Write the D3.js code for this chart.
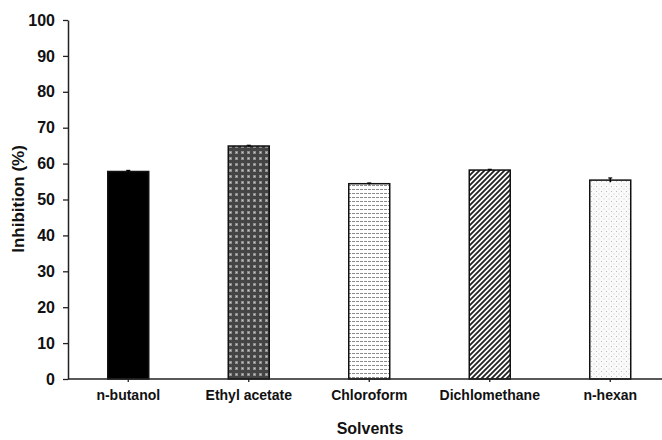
<!DOCTYPE html>
<html><head><meta charset="utf-8">
<script src="https://cdn.jsdelivr.net/npm/d3@7"></script>
<style>body{margin:0;background:#fff}svg{display:block}text{font-family:"Liberation Sans",Arial,sans-serif;font-weight:bold}</style>
</head><body>
<script>
const categories = ["n-butanol","Ethyl acetate","Chloroform","Dichlomethane","n-hexan"];
const values = [57.8, 64.9, 54.4, 58.2, 55.4];
const errors = [0.3, 0.2, 0.2, 0.2, 0.6];
const yTicks = [0,10,20,30,40,50,60,70,80,90,100];
const patterns = ["solid","check","wave","diag","dots"];

const W=662,H=440;
const svg=d3.select("body").append("svg").attr("width",W).attr("height",H);
const defs=svg.append("defs");
let p=defs.append("pattern").attr("id","check").attr("patternUnits","userSpaceOnUse").attr("width",6).attr("height",6);
p.append("rect").attr("width",6).attr("height",6).attr("fill","#444");
p.append("rect").attr("x",1).attr("y",1).attr("width",3).attr("height",3).attr("fill","#8f8f8f");
p.append("rect").attr("x",2).attr("y",2).attr("width",1).attr("height",1).attr("fill","#c8c8c8");
p=defs.append("pattern").attr("id","wave").attr("patternUnits","userSpaceOnUse").attr("width",4).attr("height",4);
p.append("rect").attr("width",4).attr("height",4).attr("fill","#fff");
p.append("rect").attr("x",0).attr("y",1).attr("width",3).attr("height",1).attr("fill","#8a8a8a");
p=defs.append("pattern").attr("id","diag").attr("patternUnits","userSpaceOnUse").attr("width",5).attr("height",5);
p.append("rect").attr("width",5).attr("height",5).attr("fill","#fff");
p.append("path").attr("d","M-1,6 L6,-1 M-1,1 L1,-1 M4,6 L6,4").attr("stroke","#222").attr("stroke-width",1.8);
p=defs.append("pattern").attr("id","dots").attr("patternUnits","userSpaceOnUse").attr("width",5).attr("height",5);
p.append("rect").attr("width",5).attr("height",5).attr("fill","#fafafa");
p.append("rect").attr("x",1).attr("y",1).attr("width",1).attr("height",1).attr("fill","#bbb");
p.append("rect").attr("x",3.5).attr("y",3.5).attr("width",1).attr("height",1).attr("fill","#d0d0d0");

const x0=68, y0=379, yTop=20;
const x=d3.scaleBand().domain(categories).range([x0, x0+5*120.5]).paddingInner(0.66).paddingOuter(0.33);
const y=d3.scaleLinear().domain([0,100]).range([y0,yTop]);

const g=svg.append("g");
g.selectAll("rect.bar").data(categories).join("rect").attr("class","bar")
  .attr("x",d=>x(d)).attr("width",x.bandwidth())
  .attr("y",(d,i)=>y(values[i])).attr("height",(d,i)=>y0-y(values[i]))
  .attr("fill",(d,i)=>patterns[i]==="solid"?"#000":`url(#${patterns[i]})`)
  .attr("stroke","#111").attr("stroke-width",1.5);

g.selectAll("g.err").data(categories).join("g").attr("class","err").each(function(d,i){
  const cx=x(d)+x.bandwidth()/2, s=d3.select(this);
  s.append("line").attr("x1",cx).attr("x2",cx).attr("y1",y(values[i]+errors[i])).attr("y2",y(values[i]-errors[i])).attr("stroke","#000").attr("stroke-width",1.5);
  s.append("line").attr("x1",cx-2).attr("x2",cx+2).attr("y1",y(values[i]+errors[i])).attr("y2",y(values[i]+errors[i])).attr("stroke","#000").attr("stroke-width",1.2);
});

const ya=svg.append("g").attr("transform",`translate(${x0},0)`)
  .call(d3.axisLeft(y).tickValues(yTicks).tickSize(5).tickPadding(8).tickSizeOuter(0));
ya.select(".domain").attr("stroke","#222").attr("stroke-width",1.5);
ya.selectAll(".tick line").attr("stroke","#222").attr("stroke-width",1.3);
ya.selectAll(".tick text").attr("font-size",16).attr("fill","#111").attr("font-family","Liberation Sans, Arial, sans-serif").attr("font-weight","bold");

const xa=svg.append("g").attr("transform",`translate(0,${y0})`)
  .call(d3.axisBottom(x).tickSize(3).tickPadding(8).tickSizeOuter(0));
xa.select(".domain").attr("d",`M${x0},0H${W}`).attr("stroke","#222").attr("stroke-width",1.5);
xa.selectAll(".tick line").attr("stroke","#222").attr("stroke-width",1.3);
xa.selectAll(".tick text").attr("font-size",14).attr("fill","#111").attr("font-family","Liberation Sans, Arial, sans-serif").attr("font-weight","bold");

svg.append("text").attr("x",370).attr("y",434).attr("text-anchor","middle").attr("font-size",16).attr("fill","#111").text("Solvents");
svg.append("text").attr("transform","translate(24,199) rotate(-90)").attr("text-anchor","middle").attr("font-size",17).attr("fill","#111").text("Inhibition (%)");
</script>
</body></html>
